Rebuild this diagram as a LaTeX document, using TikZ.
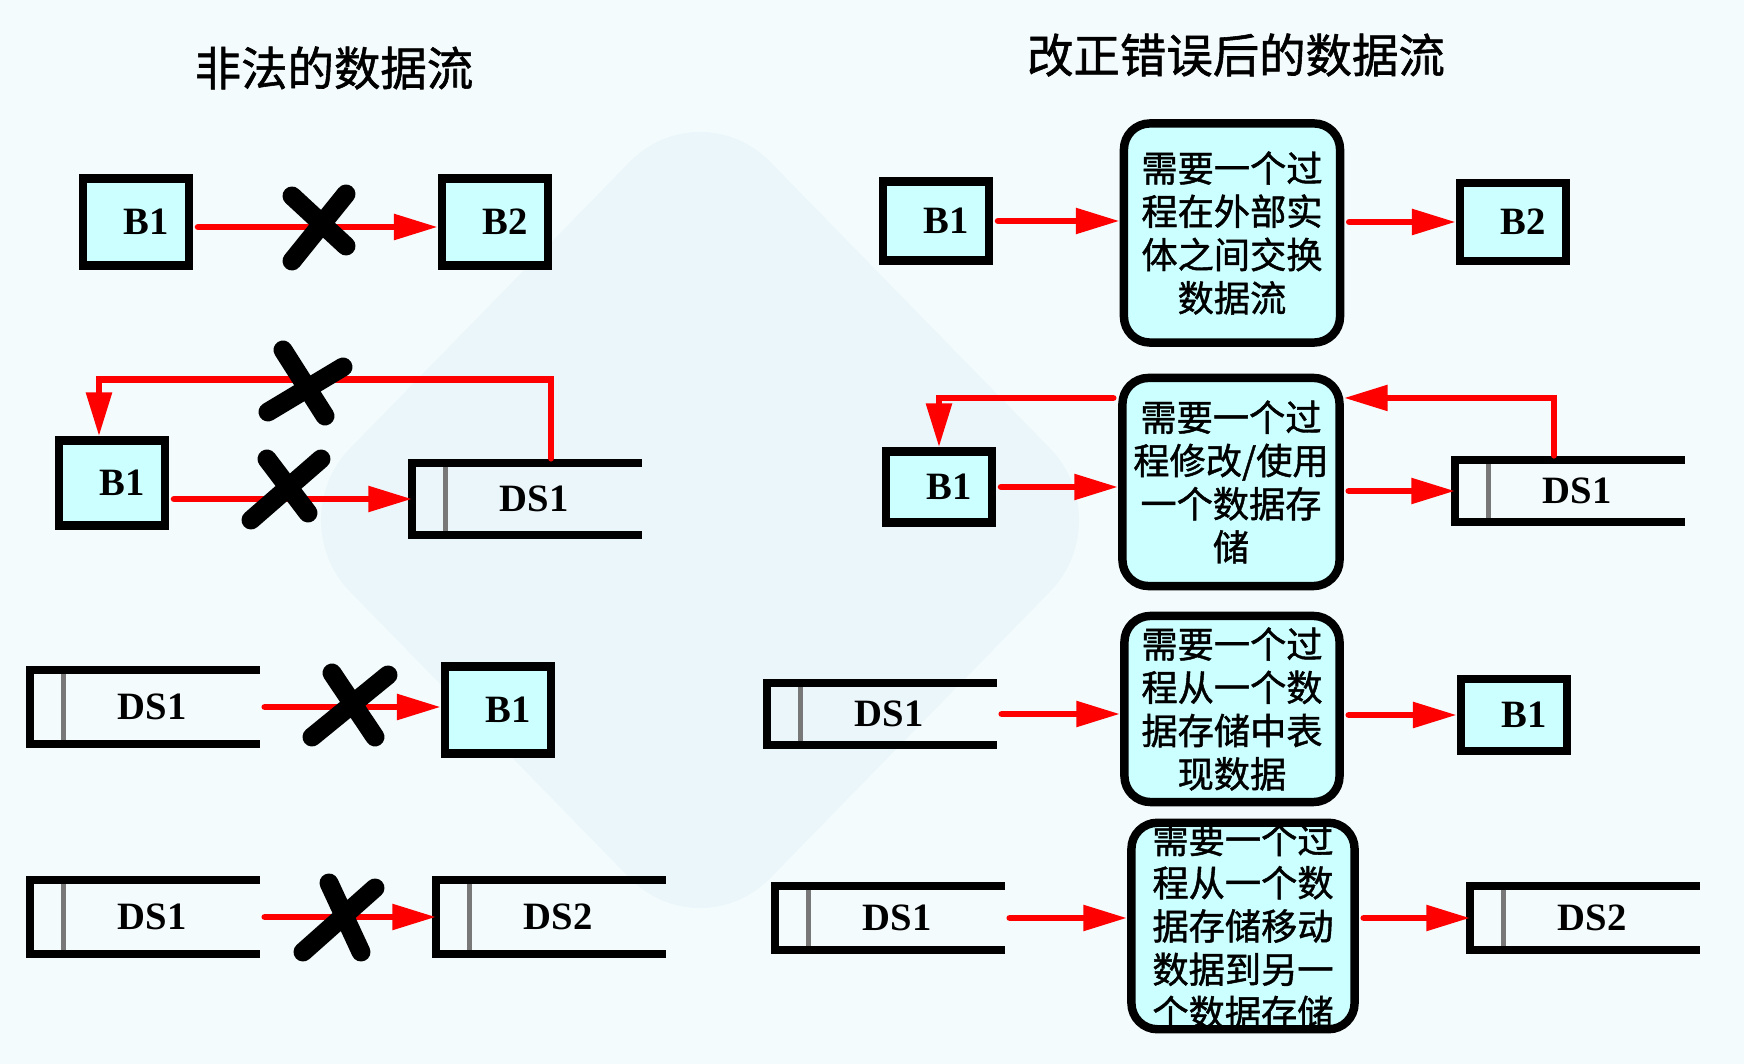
\documentclass[tikz,border=0pt]{standalone}
\usepackage{fontspec}
\setmainfont{Liberation Serif}
\newfontfamily\cjk[FakeBold=1.2]{Noto Sans CJK SC}
\definecolor{boxcyan}{RGB}{204,255,255}
\definecolor{flowred}{RGB}{255,0,0}
\definecolor{storegray}{RGB}{120,120,120}
\definecolor{bgwash}{RGB}{243,251,253}
\definecolor{bgshape}{RGB}{235,246,251}
\usetikzlibrary{arrows.meta,positioning,calc}

\begin{document}
\begin{tikzpicture}[
  x=0.01cm, y=-0.01cm,
  ttl/.style={font=\cjk\fontsize{13.2pt}{15pt}\selectfont},
  entbox/.style={draw,line width=2.3pt,fill=boxcyan,minimum width=1.06cm,
                 font=\fontsize{11pt}{13pt}\selectfont\bfseries,
                 execute at begin node=\hspace*{0.2cm}},
  procbox/.style={draw,line width=2.4pt,fill=boxcyan,rounded corners=0.26cm,
                  inner sep=0pt,align=center,
                  font=\cjk\fontsize{10.3pt}{12.3pt}\selectfont},
  storebox/.style={minimum width=2.28cm,inner sep=0pt,
                   font=\fontsize{11pt}{13pt}\selectfont\bfseries,
                   execute at begin node=\hspace*{0.14cm}},
  storeline/.style={line width=2.3pt},
  flowline/.style={draw=flowred,line width=1.9pt,line cap=round,
                   -{Triangle[length=12.5pt,width=7pt]},shorten <=0.05cm},
  xmark/.style={line width=5.4pt,line cap=round},
]
  \useasboundingbox (0,0) rectangle (1744,1064);
  % background
  \fill[bgwash] (0,0) rectangle (1744,1064);
  \fill[bgshape,rounded corners=1cm] (700,90) -- (1120,520) -- (700,950) -- (280,520) -- cycle;

  % titles
  \node[ttl] (titleL) at (334,68) {非法的数据流};
  \node[ttl] (titleR) at (1236,55) {改正错误后的数据流};

  % left: illegal flows
  \node[entbox,minimum height=0.87cm] (b1a) at (136,222) {B1};
  \node[entbox,minimum height=0.87cm] (b2a) at (495,222) {B2};
  \node[entbox,minimum height=0.85cm] (b1b) at (112,483) {B1};
  \node[storebox,minimum height=0.70cm] (ds1b) at (527,499) {DS1};
  \node[storebox,minimum height=0.72cm] (ds1c) at (145,707) {DS1};
  \node[entbox,minimum height=0.87cm] (b1c) at (498,710) {B1};
  \node[storebox,minimum height=0.72cm] (ds1d) at (145,917) {DS1};
  \node[storebox,minimum height=0.72cm] (ds2d) at (551,917) {DS2};

  % right: corrected flows
  \node[entbox,minimum height=0.79cm] (b1r1) at (936,221) {B1};
  \node[procbox,minimum width=2.16cm,minimum height=2.19cm] (p1) at (1232,233) {需要一个过\\程在外部实\\体之间交换\\数据流};
  \node[entbox,minimum height=0.78cm] (b2r1) at (1513,222) {B2};

  \node[entbox,minimum height=0.71cm] (b1r2) at (939,487) {B1};
  \node[procbox,minimum width=2.17cm,minimum height=2.08cm] (p2) at (1231,482) {需要一个过\\程修改/使用\\一个数据存\\储};
  \node[storebox,minimum height=0.60cm] (ds1r2) at (1570,491) {DS1};

  \node[storebox,minimum height=0.60cm] (ds1r3) at (882,714) {DS1};
  \node[procbox,minimum width=2.15cm,minimum height=1.86cm] (p3) at (1232,709) {需要一个过\\程从一个数\\据存储中表\\现数据};
  \node[entbox,minimum height=0.72cm] (b1r3) at (1514,715) {B1};

  \node[storebox,minimum height=0.62cm] (ds1r4) at (890,918) {DS1};
  \node[procbox,minimum width=2.23cm,minimum height=2.06cm] (p4) at (1243,926) {需要一个过\\程从一个数\\据存储移动\\数据到另一\\个数据存储};
  \node[storebox,minimum height=0.62cm] (ds2r4) at (1585,918) {DS2};

  % data stores: open rectangles
  \foreach \s in {ds1b,ds1c,ds1d,ds2d,ds1r2,ds1r3,ds1r4,ds2r4} {
    \draw[storegray,line width=1.3pt] ($(\s.north west)!0.145!(\s.north east)$) -- ($(\s.south west)!0.145!(\s.south east)$);
    \draw[storeline] (\s.north east) -- (\s.north west) -- (\s.south west) -- (\s.south east);
  }

  % flows
  \draw[flowline] ([yshift=-0.05cm]b1a.east) -- ([yshift=-0.05cm]b2a.west);
  \draw[flowline] (b1b.east |- ds1b.west) -- (ds1b.west);
  \draw[flowline] ([xshift=0.24cm]ds1b.north) |- ([xshift=-0.13cm,yshift=0.57cm]b1b.north) -- ([xshift=-0.13cm]b1b.north);
  \draw[flowline] (ds1c.east) -- (ds1c.east -| b1c.west);
  \draw[flowline] (ds1d.east) -- (ds2d.west);

  \draw[flowline] (b1r1.east) -- (b1r1.east -| p1.west);
  \draw[flowline] (p1.east |- b2r1.west) -- (b2r1.west);
  \draw[flowline] (b1r2.east) -- (b1r2.east -| p2.west);
  \draw[flowline] (p2.east |- ds1r2.west) -- (ds1r2.west);
  \draw[flowline] ([xshift=-0.16cm]ds1r2.north) |- ([yshift=0.84cm]p2.east);
  \draw[flowline] ([yshift=0.84cm]p2.west) -| (b1r2.north);
  \draw[flowline] (ds1r3.east) -- (ds1r3.east -| p3.west);
  \draw[flowline] (p3.east |- b1r3.west) -- (b1r3.west);
  \draw[flowline] (ds1r4.east) -- (ds1r4.east -| p4.west);
  \draw[flowline] (p4.east |- ds2r4.west) -- (ds2r4.west);

  % crosses over the illegal flows
  \draw[xmark] (292,196) -- (346,246) (346,194) -- (292,261);
  \draw[xmark] (283,350) -- (325,416) (343,367) -- (268,412);
  \draw[xmark] (267,459) -- (308,513) (321,459) -- (251,520);
  \draw[xmark] (332,673) -- (375,737) (388,675) -- (312,737);
  \draw[xmark] (329,883) -- (361,952) (375,888) -- (303,952);
\end{tikzpicture}
\end{document}
